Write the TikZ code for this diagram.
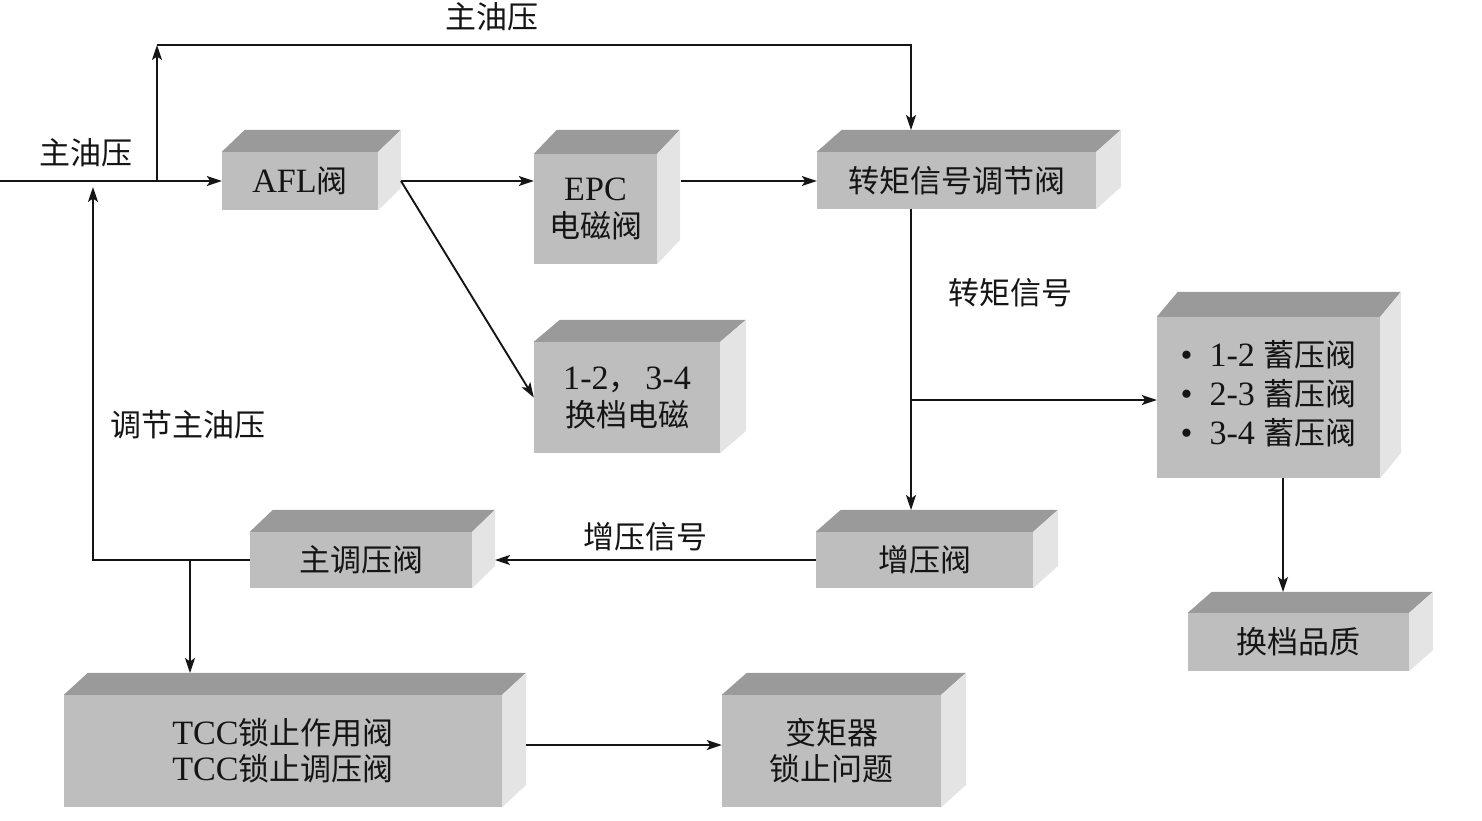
\documentclass[tikz,border=0pt]{standalone}
\usepackage{fontspec}
\setmainfont[Scale=1.1]{Liberation Serif}
\newfontfamily\cjk{Noto Sans CJK SC}
\newcommand\zh[1]{{\cjk #1}}
\usetikzlibrary{arrows.meta}
\definecolor{frontc}{HTML}{BEBEBE}
\definecolor{topc}{HTML}{9A9A9A}
\definecolor{sidec}{HTML}{E4E4E4}
\definecolor{inkc}{HTML}{151515}
\tikzset{
  face/.style={fill=frontc, draw=none, inner sep=0pt, align=center, font=\fontsize{31}{36}\selectfont, text=inkc},
  lbl/.style={inner sep=0pt, font=\fontsize{31}{36}\selectfont, text=inkc},
  conn/.style={draw=inkc, line width=1.9pt, -{Stealth[length=15pt,width=10pt,inset=3.5pt]}},
  plain/.style={draw=inkc, line width=1.9pt},
}
\newcommand\cube[8]{%
  \node[face, minimum width={(#4-#2)*1pt}, minimum height={(#5-#3)*1pt}] (#1) at ({(#2+#4)/2},{(#3+#5)/2}) {#8};
  \fill[topc] (#1.north west) -- ++(#6,-#7) -- ++({#4-#2},0) -- (#1.north east) -- cycle;
  \fill[sidec] (#1.north east) -- ++(#6,-#7) -- ++(0,{#5-#3}) -- (#1.south east) -- cycle;
}
\begin{document}
\begin{tikzpicture}[x=1pt,y=-1pt]
\useasboundingbox (0,0) rectangle (1482,820);
% boxes
\cube{afl}{222}{152}{378}{210}{23}{22}{AFL\zh{阀}}
\cube{epc}{534}{154}{657}{264}{23}{24}{EPC\\[1pt]\zh{电磁阀}}
\cube{tq}{817}{152}{1096}{209}{25}{22}{\zh{转矩信号调节阀}}
\cube{sh}{534}{342}{720}{453}{26}{22}{1-2\zh{，}\,3-4\\[1pt]\zh{换档电磁}}
\cube{acc}{1157}{317}{1380}{478}{21}{25}{\begin{tabular}{@{}l@{}}\textbullet\ \ 1-2 \zh{蓄压阀}\\[2pt]\textbullet\ \ 2-3 \zh{蓄压阀}\\[2pt]\textbullet\ \ 3-4 \zh{蓄压阀}\end{tabular}}
\cube{boost}{816}{532}{1033}{588}{25}{22}{\zh{增压阀}}
\cube{mr}{250}{532}{472}{588}{23}{22}{\zh{主调压阀}}
\cube{sq}{1188}{613}{1409}{671}{24}{21}{\zh{换档品质}}
\cube{tcc}{64}{695}{502}{807}{24}{22}{TCC\zh{锁止作用阀}\\[0pt]TCC\zh{锁止调压阀}}
\cube{lock}{722}{695}{941}{807}{25}{22}{\zh{变矩器}\\[0pt]\zh{锁止问题}}
% labels
\node[lbl] (l1) at (492,17) {\zh{主油压}};
\node[lbl] (l2) at (86,153) {\zh{主油压}};
\node[lbl] (l3) at (1010,293) {\zh{转矩信号}};
\node[lbl] (l4) at (188,425) {\zh{调节主油压}};
\node[lbl] (l5) at (645,537) {\zh{增压信号}};
% coordinates
\coordinate (in) at (0,181);
\coordinate (j1) at (157,181);
\coordinate (c1) at (157,45);
\coordinate (c2) at (911,45);
\coordinate (tqtop) at (911,130);
\coordinate (fb1) at (93,560);
\coordinate (fb2) at (93,187);
\coordinate (br) at (190,560);
\coordinate (tcctop) at (190,673);
\coordinate (aflR) at (401,181);
\coordinate (epcR) at (681,181);
\coordinate (tqB) at (911,209);
\coordinate (j2) at (911,400);
\coordinate (bsTop) at (911,510);
\coordinate (mrR) at (495,560);
\coordinate (accB) at (1283,478);
\coordinate (sqTop) at (1283,592);
\coordinate (tccR) at (526,745);
% connectors
\draw[conn] (in) -- (afl.west);
\draw[conn] (j1) -- (c1);
\draw[conn] (c1) -- (c2) -- (tqtop);
\draw[conn] (aflR) -- (epc.west |- aflR);
\draw[conn] (aflR) -- (sh.west);
\draw[conn] (epcR) -- (tq.west |- epcR);
\draw[conn] (tqB) -- (bsTop);
\draw[conn] (j2) -- (acc.west |- j2);
\draw[conn] (boost.west |- mrR) -- (mrR);
\draw[conn] (mr.west |- fb1) -- (fb1) -- (fb2);
\draw[conn] (br) -- (tcctop);
\draw[conn] (accB) -- (sqTop);
\draw[conn] (tccR) -- (lock.west |- tccR);
\end{tikzpicture}
\end{document}
